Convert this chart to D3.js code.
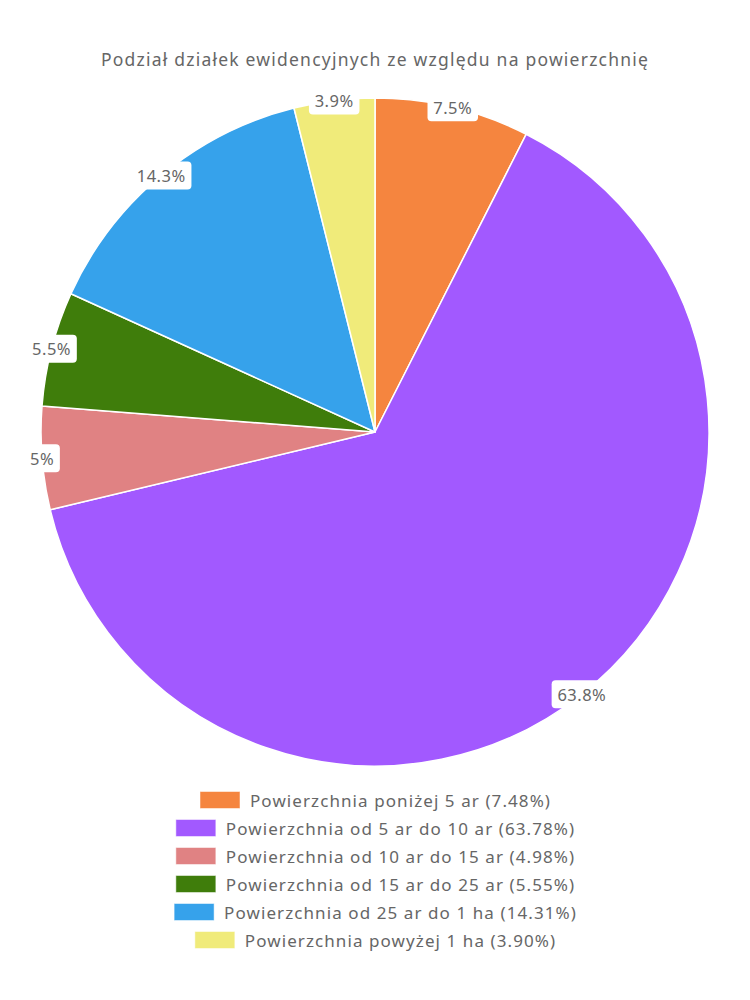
<!DOCTYPE html>
<html><head><meta charset="utf-8">
<script src="https://cdn.jsdelivr.net/npm/d3@7"></script>
<style>body{margin:0;background:#fff}svg{display:block}</style>
</head><body>
<svg id="c" width="750" height="1000"></svg>
<script>
const title = "Podział działek ewidencyjnych ze względu na powierzchnię";
const categories = [
  "Powierzchnia poniżej 5 ar",
  "Powierzchnia od 5 ar do 10 ar",
  "Powierzchnia od 10 ar do 15 ar",
  "Powierzchnia od 15 ar do 25 ar",
  "Powierzchnia od 25 ar do 1 ha",
  "Powierzchnia powyżej 1 ha"
];
const values = [7.48, 63.78, 4.98, 5.55, 14.31, 3.90];
const colors = ["#f5853f", "#a259ff", "#e08283", "#3f7d0b", "#36a2eb", "#f0eb7a"];

const FONT = "'Noto Sans', sans-serif";
const TXT = "#666";
const svg = d3.select("#c");
const cx = 375, cy = 432, R = 334;

function fit(sel, target) {
  const n = sel.text().length;
  const w = sel.node().getComputedTextLength();
  const ls = (target - w) / Math.max(1, n - 1);
  sel.attr("letter-spacing", ls.toFixed(3));
  return ls;
}

// title
const t = svg.append("text").attr("x", cx).attr("y", 66).attr("text-anchor", "middle")
  .attr("font-family", FONT).attr("font-size", 17.5).attr("fill", TXT).text(title);
fit(t, 547);

// pie
const data = categories.map((c, i) => ({cat: c, value: values[i], color: colors[i]}));
const pie = d3.pie().sort(null).value(d => d.value);
const arcs = pie(data);
const arc = d3.arc().innerRadius(0).outerRadius(R);
const g = svg.append("g").attr("transform", `translate(${cx},${cy})`);
g.selectAll("path").data(arcs).join("path")
  .attr("d", arc).attr("fill", d => d.data.color)
  .attr("stroke", "#fff").attr("stroke-width", 1.5).attr("stroke-linejoin", "round");

// labels
const lab = svg.append("g");
arcs.forEach(a => {
  const m = (a.startAngle + a.endAngle) / 2;
  let x = cx + R * Math.sin(m), y = cy - R * Math.cos(m);
  const txt = parseFloat(a.data.value.toFixed(1)) + "%";
  const gg = lab.append("g");
  const tt = gg.append("text").attr("text-anchor", "middle").attr("dominant-baseline", "central")
    .attr("font-family", FONT).attr("font-size", 16.5).attr("fill", TXT).text(txt);
  const w = tt.node().getComputedTextLength() + 0.5 * (txt.length - 1);
  const bw = w + 12, bh = 28;
  x = Math.max(bw / 2 + 10, Math.min(750 - bw / 2 - 10, x));
  tt.attr("x", x).attr("y", y);
  tt.attr("letter-spacing", 0.5);
  gg.insert("rect", "text").attr("x", x - bw / 2).attr("y", y - bh / 2)
    .attr("width", bw).attr("height", bh).attr("rx", 4).attr("fill", "#fff");
});

// legend
const lg = svg.append("g");
const rowY0 = 800, rowH = 28;
let ls = null;
data.forEach((d, i) => {
  const y = rowY0 + i * rowH;
  const row = lg.append("g");
  const tx = row.append("text").attr("y", y).attr("dominant-baseline", "central")
    .attr("font-family", FONT).attr("font-size", 17).attr("fill", TXT)
    .text(`${d.cat} (${d.value.toFixed(2)}%)`);
  const w0 = tx.node().getComputedTextLength();
  if (ls === null) ls = (300 - w0) / (tx.text().length - 1);
  tx.attr("letter-spacing", ls.toFixed(3));
  const w = w0 + ls * (tx.text().length - 1);
  const total = 40 + 10 + w;
  const x0 = cx - total / 2;
  row.append("rect").attr("x", x0).attr("y", y - 8.5).attr("width", 40).attr("height", 17)
    .attr("fill", d.color).attr("stroke", "#fff").attr("stroke-opacity", 0.5).attr("stroke-width", 1);
  tx.attr("x", x0 + 50);
});
</script>
</body></html>
